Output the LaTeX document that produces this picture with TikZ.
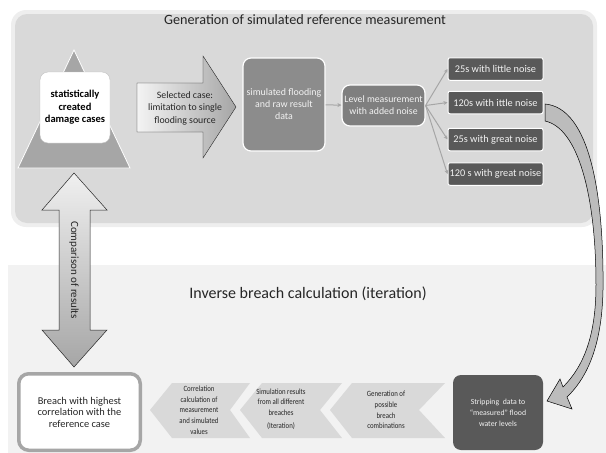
\documentclass[tikz,border=0pt]{standalone}
\usepackage{fontspec}
\setmainfont{Carlito}
\newfontfamily\narrowfont[FakeStretch=0.85]{Carlito}
\usetikzlibrary{arrows.meta}

\definecolor{panelgray}{HTML}{D9D9D9}
\definecolor{panellight}{HTML}{F2F2F2}
\definecolor{simgray}{HTML}{8C8C8C}
\definecolor{levelgray}{HTML}{7F7F7F}
\definecolor{boxdark}{HTML}{595959}
\definecolor{linegray}{HTML}{A6A6A6}
\definecolor{textdark}{HTML}{262626}

\begin{document}
\begin{tikzpicture}[x=1pt,y=-1pt]
\useasboundingbox (0,0) rectangle (606,453);

% panels
\fill[panelgray!45, rounded corners=15pt] (11,10) rectangle (597,227);
\fill[panelgray, rounded corners=12pt] (15,14) rectangle (593,223);
\fill[panellight] (8,265) rectangle (606,453);

\node[font=\fontsize{14.2}{16}\selectfont, text=textdark] (toptitle) at (305,20) {Generation of simulated reference measurement};
\node[font=\fontsize{16}{18}\selectfont, text=textdark] (bottomtitle) at (308,294) {Inverse breach calculation (iteration)};

% upper part
\filldraw[fill=linegray, draw=white, line width=0.8pt] (74,50) -- (130,168) -- (18,168) -- cycle;
\shadedraw[left color=panelgray!30, right color=linegray, draw=textdark, line width=0.4pt]
    (137,83) -- (203,83) -- (203,56) -- (236,107) -- (203,158) -- (203,132) -- (137,132) -- cycle;

\begin{scope}[every node/.style={align=center, rounded corners=8pt}]
    \node[fill=white, draw=linegray!70, minimum width=70pt, minimum height=71pt, inner sep=1pt,
          font=\bfseries\fontsize{10.5}{12.5}\selectfont] (damage) at (75,107.5) {statistically\\created\\damage cases};
    \node[font=\fontsize{9.8}{12.5}\selectfont, text=textdark, rounded corners=0pt] (selected) at (185,108) {Selected case:\\limitation to single\\flooding source};
    \node[fill=simgray, draw=white, line width=1.2pt, minimum width=82pt, minimum height=93pt, inner sep=1pt, text=panellight,
          font=\fontsize{9.9}{12}\selectfont] (sim) at (284,104.5) {simulated flooding\\and raw result\\data};
    \node[fill=levelgray, draw=white, line width=1.2pt, minimum width=83pt, minimum height=41pt, inner sep=1pt, text=panellight,
          font=\fontsize{9.8}{12}\selectfont] (level) at (383.5,105.5) {Level measurement\\with added noise};
\end{scope}

\begin{scope}[every node/.style={fill=boxdark, draw=white, line width=1pt, rounded corners=2pt,
              minimum width=95pt, minimum height=22.5pt, inner sep=1pt, text=panellight,
              font=\fontsize{10.3}{11}\selectfont}]
    \node (little25) at (495.5,69) {25s with little noise};
    \node (little120) at (495.5,102.5) {120s with ittle noise};
    \node (great25) at (495.5,139.5) {25s with great noise};
    \node (great120) at (495.5,174) {120 s with great noise};
\end{scope}

\begin{scope}[>={Stealth[linegray, length=4pt, width=4pt]},
              every edge/.style={draw=linegray, line width=1pt}]
    \path [->] (sim) edge (level);
    \path [->] (level.east) edge (little25.west);
    \path [->] (level.east) edge (little120.west);
    \path [->] (level.east) edge (great25.west);
    \path [->] (level.east) edge (great120.west);
\end{scope}

% curved block arrow down to the stripping step
\filldraw[fill=linegray!75, draw=black, line width=0.5pt]
    (545,104) .. controls (590,108) and (604,195) .. (603,290)
    .. controls (602,340) and (590,375) .. (567,397)
    -- (572,409) -- (547,401) -- (560,379) -- (563,387)
    .. controls (584,366) and (596,335) .. (596,285)
    .. controls (596,195) and (578,128) .. (545,121) -- cycle;

% comparison double arrow
\shadedraw[top color=panelgray!40, bottom color=linegray, draw=textdark, line width=0.5pt]
    (74,173) -- (107,210) -- (90,210) -- (90,330) -- (107,330) -- (74,367)
    -- (42,330) -- (59,330) -- (59,210) -- (42,210) -- cycle;
\node[rotate=-90, font=\fontsize{11}{13}\selectfont, text=textdark] (compare) at (74,270) {Comparison of results};

% lower part
\fill[panelgray] (150,410) -- (172,383) -- (250,383) -- (230,410) -- (250,438) -- (172,438) -- cycle;
\fill[panelgray] (240,410) -- (262,383) -- (342,383) -- (320,410) -- (342,438) -- (262,438) -- cycle;
\fill[panelgray] (330,410) -- (352,383) -- (445,383) -- (419,410) -- (445,438) -- (352,438) -- cycle;

\begin{scope}[every node/.style={align=center, text=textdark, inner sep=0pt, font=\narrowfont\fontsize{8}{10.7}\selectfont}]
    \node (correlation) at (199,410) {Correlation\\calculation of\\measurement\\and simulated\\values};
    \node (simresults) at (281,409) {Simulation results\\from all different\\breaches\\[2pt](Iteration)};
    \node (generation) at (386,410) {Generation of\\possible\\breach\\combinations};
\end{scope}

\node[fill=white, draw=linegray, line width=3.5pt, rounded corners=10pt, minimum width=121.5pt, minimum height=76.5pt,
      align=center, text=textdark, font=\fontsize{10.4}{11.5}\selectfont] (breach) at (79.5,412) {Breach with highest\\correlation with the\\reference case};
\node[fill=boxdark, rounded corners=8pt, minimum width=90pt, minimum height=75pt, align=center, text=panellight,
      font=\fontsize{7.8}{11}\selectfont] (strip) at (498,412.5) {Stripping\ \ data to\\“measured” flood\\water levels};

\end{tikzpicture}
\end{document}
